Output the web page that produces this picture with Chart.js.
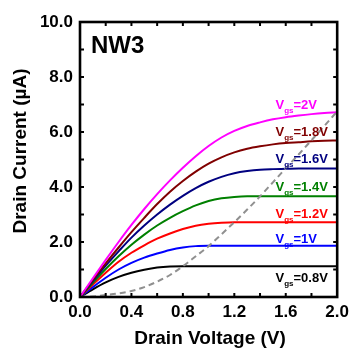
<!DOCTYPE html>
<html>
<head>
<meta charset="utf-8">
<script src="https://cdn.jsdelivr.net/npm/chart.js@4.4.0/dist/chart.umd.min.js"></script>
<style>
    html, body { margin: 0; padding: 0; background: #fff; }
    #wrap { width: 354px; height: 349px; }
</style>
</head>
<body>
<div id="wrap"><canvas id="ivChart" width="354" height="349"></canvas></div>
<script>
    // drain voltage sweep (V)
    const drainVoltage = [0, 0.1, 0.2, 0.3, 0.4, 0.5, 0.6, 0.7, 0.8, 0.9, 1.0,
                          1.1, 1.2, 1.3, 1.4, 1.5, 1.6, 1.7, 1.8, 1.9, 2.0];

    // drain current (uA) for each gate voltage
    const idVgs20 = [0, 0.68, 1.35, 2.00, 2.62, 3.20, 3.74, 4.24, 4.70, 5.12, 5.49,
                     5.80, 6.04, 6.22, 6.35, 6.46, 6.54, 6.60, 6.65, 6.69, 6.72];
    const idVgs18 = [0, 0.62, 1.22, 1.80, 2.36, 2.88, 3.38, 3.83, 4.22, 4.56, 4.85,
                     5.08, 5.26, 5.39, 5.48, 5.55, 5.60, 5.63, 5.66, 5.68, 5.69];
    const idVgs16 = [0, 0.58, 1.14, 1.66, 2.16, 2.60, 3.00, 3.36, 3.68, 3.96, 4.19,
                     4.37, 4.50, 4.58, 4.63, 4.65, 4.66, 4.67, 4.67, 4.67, 4.67];
    const idVgs14 = [0, 0.52, 1.02, 1.48, 1.90, 2.27, 2.60, 2.88, 3.12, 3.33, 3.49,
                     3.59, 3.64, 3.66, 3.66, 3.66, 3.66, 3.66, 3.66, 3.66, 3.66];
    const idVgs12 = [0, 0.45, 0.88, 1.28, 1.61, 1.88, 2.12, 2.31, 2.47, 2.59, 2.66,
                     2.70, 2.72, 2.72, 2.72, 2.72, 2.72, 2.72, 2.72, 2.72, 2.72];
    const idVgs10 = [0, 0.36, 0.70, 1.00, 1.24, 1.43, 1.58, 1.71, 1.80, 1.85, 1.86,
                     1.86, 1.86, 1.86, 1.86, 1.86, 1.86, 1.86, 1.86, 1.86, 1.86];
    const idVgs08 = [0, 0.28, 0.53, 0.73, 0.88, 0.99, 1.07, 1.11, 1.12, 1.12, 1.12,
                     1.12, 1.12, 1.12, 1.12, 1.12, 1.12, 1.12, 1.12, 1.12, 1.12];

    // saturation boundary (grey dashed)
    const idSatEdge = [0, 0.02, 0.07, 0.13, 0.22, 0.36, 0.56, 0.80, 1.12, 1.48, 1.85,
                       2.28, 2.72, 3.18, 3.66, 4.17, 4.68, 5.18, 5.70, 6.22, 6.75];

    const gateLabels = ['2V', '1.8V', '1.6V', '1.4V', '1.2V', '1V', '0.8V'];
    const xTickValues = [0, 0.4, 0.8, 1.2, 1.6, 2.0];
    const yTickValues = [0, 2, 4, 6, 8, 10];

    const curveColors = ['#ff00ff', '#800000', '#000080', '#008000', '#ff0000', '#0000ff', '#000000'];
    const curves = [idVgs20, idVgs18, idVgs16, idVgs14, idVgs12, idVgs10, idVgs08];

    const FONT = '"Liberation Sans", Arial, sans-serif';

    function toPoints(ys) {
        return drainVoltage.map((v, i) => ({ x: v, y: ys[i] }));
    }

    const datasets = curves.map((ys, i) => ({
        label: 'Vgs=' + gateLabels[i],
        data: toPoints(ys),
        borderColor: curveColors[i],
        borderWidth: 2,
        pointRadius: 0,
        cubicInterpolationMode: 'monotone',
        fill: false,
        order: 1
    }));
    datasets.push({
        label: 'sat',
        data: toPoints(idSatEdge),
        borderColor: '#909090',
        borderWidth: 2,
        borderDash: [6, 4],
        pointRadius: 0,
        cubicInterpolationMode: 'monotone',
        fill: false,
        order: 0
    });

    // where the Vgs labels sit (left edge in V, baseline in uA)
    const labelLeftV = 1.52;
    const labelBaseI = [6.84, 5.85, 4.87, 3.85, 2.87, 1.96, 0.55];

    // frame, inward ticks, titles and annotations
    const decorPlugin = {
        id: 'decor',
        afterDatasetsDraw(chart) {
            const ctx = chart.ctx;
            const a = chart.chartArea;
            const xs = chart.scales.x;
            const ys = chart.scales.y;
            ctx.save();

            // ticks, pointing inward on all four sides
            ctx.strokeStyle = '#000';
            ctx.lineWidth = 2;
            const tl = 4;
            for (let k = 1; k < 10; k++) {
                const px = xs.getPixelForValue(k * 0.2);
                ctx.beginPath();
                ctx.moveTo(px, a.bottom); ctx.lineTo(px, a.bottom - tl);
                ctx.moveTo(px, a.top); ctx.lineTo(px, a.top + tl);
                ctx.stroke();
            }
            for (let k = 1; k < 10; k++) {
                const py = ys.getPixelForValue(k);
                ctx.beginPath();
                ctx.moveTo(a.left, py); ctx.lineTo(a.left + tl, py);
                ctx.moveTo(a.right, py); ctx.lineTo(a.right - tl, py);
                ctx.stroke();
            }

            // frame
            ctx.lineWidth = 2.6;
            ctx.strokeRect(a.left, a.top, a.right - a.left, a.bottom - a.top);

            // sample name
            ctx.fillStyle = '#000';
            ctx.font = 'bold 24px ' + FONT;
            ctx.textAlign = 'left';
            ctx.textBaseline = 'alphabetic';
            ctx.fillText('NW3', 91, 53);

            // Vgs labels with subscript
            const lx = xs.getPixelForValue(labelLeftV);
            gateLabels.forEach((g, i) => {
                const by = ys.getPixelForValue(labelBaseI[i]);
                ctx.fillStyle = curveColors[i];
                ctx.font = 'bold 13px ' + FONT;
                ctx.fillText('V', lx, by);
                let x = lx + ctx.measureText('V').width;
                ctx.font = 'bold 8px ' + FONT;
                ctx.fillText('gs', x, by + 4);
                x += ctx.measureText('gs').width;
                ctx.font = 'bold 13px ' + FONT;
                ctx.fillText('=' + g, x, by);
            });

            // axis titles
            ctx.fillStyle = '#000';
            ctx.font = 'bold 19px ' + FONT;
            ctx.textAlign = 'center';
            ctx.textBaseline = 'middle';
            ctx.fillText('Drain Voltage (V)', 210, 339);
            ctx.translate(21, 151);
            ctx.rotate(-Math.PI / 2);
            ctx.fillText('Drain Current (\u00b5A)', 0, 0);

            ctx.restore();
        }
    };

    new Chart(document.getElementById('ivChart').getContext('2d'), {
        type: 'line',
        data: { datasets: datasets },
        options: {
            responsive: false,
            animation: false,
            events: [],
            layout: { padding: { top: 22, right: 13, left: 0, bottom: 0 } },
            plugins: {
                legend: { display: false },
                tooltip: { enabled: false }
            },
            scales: {
                x: {
                    type: 'linear',
                    min: 0,
                    max: 2,
                    grid: { display: false, drawTicks: false },
                    border: { display: false },
                    afterBuildTicks: (s) => { s.ticks = xTickValues.map(v => ({ value: v })); },
                    afterFit: (s) => { s.height = 52; },
                    ticks: {
                        padding: 5,
                        color: '#000',
                        font: { family: FONT, size: 17, weight: 'bold' },
                        maxRotation: 0,
                        callback: (v) => Number(v).toFixed(1)
                    }
                },
                y: {
                    type: 'linear',
                    min: 0,
                    max: 10,
                    grid: { display: false, drawTicks: false },
                    border: { display: false },
                    afterBuildTicks: (s) => { s.ticks = yTickValues.map(v => ({ value: v })); },
                    afterFit: (s) => { s.width = 80; },
                    ticks: {
                        padding: 7,
                        color: '#000',
                        font: { family: FONT, size: 17, weight: 'bold' },
                        callback: (v) => Number(v).toFixed(1)
                    }
                }
            }
        },
        plugins: [decorPlugin]
    });
</script>
</body>
</html>
